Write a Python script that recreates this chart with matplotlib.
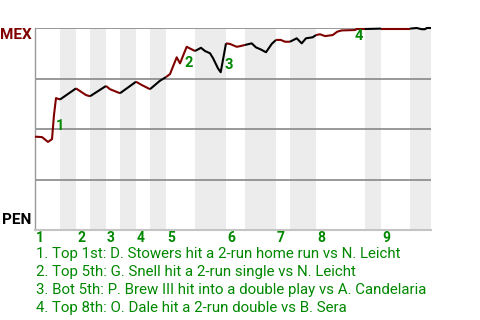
import matplotlib
matplotlib.use("Agg")
import matplotlib.pyplot as plt

# ── Win probability data (progress units along the game, MEX win prob) ──────
progress = [0, 7, 13, 17, 19, 21, 25,
            41,
            51, 55,
            71,
            75, 85,
            101,
            106.7, 115,
            125, 131,
            135, 141.7, 145, 151.7, 160,
            166, 170, 175, 178, 183, 185.7, 191,
            195, 201.7, 205, 210,
            216.7, 221, 225.7, 231, 236.7, 241,
            245.7, 250, 255,
            261.7, 266.7, 271, 277.7, 281,
            285, 290, 297.7, 302.3, 306.7, 320, 321.7, 330,
            346,
            375,
            381.7, 386.7, 390, 391.7, 396]
mex_wp = [0.462, 0.460, 0.436, 0.450, 0.570, 0.653, 0.646,
          0.701,
          0.668, 0.662,
          0.713,
          0.697, 0.677,
          0.734,
          0.718, 0.697,
          0.739, 0.757,
          0.772, 0.855, 0.825, 0.907, 0.886,
          0.902, 0.886, 0.875, 0.851, 0.800, 0.781, 0.924,
          0.921, 0.907, 0.910, 0.916,
          0.924, 0.904, 0.894, 0.880, 0.921, 0.941,
          0.941, 0.932, 0.932,
          0.949, 0.924, 0.949, 0.954, 0.965,
          0.969, 0.960, 0.965, 0.982, 0.988, 0.990, 0.995, 0.995,
          0.997,
          0.997,
          1.0, 0.994, 0.994, 1.0, 1.0]

# half-inning boundaries (top, bottom, top, bottom, ...)
half_bounds = [0, 25, 41, 55, 71, 85, 101, 115, 131, 160,
               191, 210, 241, 255, 281, 330, 346, 375, 396]
inning_labels = ["1", "2", "3", "4", "5", "6", "7", "8", "9"]

# key events
event_labels = ["1", "2", "3", "4"]
event_x = [21, 150, 190, 320]
event_y = [0.516, 0.825, 0.818, 0.960]
event_notes = [
    "1. Top 1st: D. Stowers hit a 2-run home run vs N. Leicht",
    "2. Top 5th: G. Snell hit a 2-run single vs N. Leicht",
    "3. Bot 5th: P. Brew III hit into a double play vs A. Candelaria",
    "4. Top 8th: O. Dale hit a 2-run double vs B. Sera",
]

RED = "#800000"
GREEN = "#008800"
plt.rcParams["font.family"] = ["Roboto", "DejaVu Sans"]

W, H = 480, 320
fig = plt.figure(figsize=(4.8, 3.2), dpi=100)
ax = fig.add_axes([35 / W, (H - 230) / H, 396 / W, 202 / H])
ax.set_xlim(0, half_bounds[-1])
ax.set_ylim(0, 1)

# shaded bottom halves
for i in range(1, len(half_bounds) - 1, 2):
    ax.axvspan(half_bounds[i], half_bounds[i + 1], color="#ececec", lw=0, zorder=0)

for g in [0.25, 0.5, 0.75, 1.0]:
    ax.axhline(g, color="#888888", lw=1.2, zorder=1)

# line split by half inning: MEX batting red, PEN batting black
for i in range(len(half_bounds) - 1):
    lo, hi = half_bounds[i], half_bounds[i + 1]
    xs = [x for x in progress if lo <= x <= hi]
    ys = [y for x, y in zip(progress, mex_wp) if lo <= x <= hi]
    ax.plot(xs, ys, color=RED if i % 2 == 0 else "black", lw=1.5,
            solid_capstyle="butt", zorder=3, clip_on=False)

for lab, x, y in zip(event_labels, event_x, event_y):
    ax.text(x, y, lab, color=GREEN, fontsize=10.5, fontweight="bold",
            ha="left", va="center", zorder=4)

for k, lab in enumerate(inning_labels):
    ax.annotate(lab, xy=(half_bounds[2 * k], 0), xycoords=("data", "axes fraction"),
                xytext=(1, -8), textcoords="offset pixels",
                color=GREEN, fontsize=10, fontweight="bold", ha="left", va="center")

ax.set_xticks([])
ax.set_yticks([])
for side in ["top", "right"]:
    ax.spines[side].set_visible(False)
ax.spines["left"].set_color("#999999")
ax.spines["left"].set_linewidth(1.0)
ax.spines["bottom"].set_color("#c4c4c4")
ax.spines["bottom"].set_linewidth(1.5)

fig.text(32 / W, 1 - 35 / H, "MEX", color=RED, fontsize=11, fontweight="bold",
         ha="right", va="center")
fig.text(31 / W, 1 - 220.5 / H, "PEN", color="black", fontsize=11, fontweight="bold",
         ha="right", va="center")

for j, note in enumerate(event_notes):
    fig.text(36 / W, 1 - (254 + 18 * j) / H, note, color=GREEN, fontsize=10.85,
             ha="left", va="center")

fig.savefig("out.png", dpi=100)
